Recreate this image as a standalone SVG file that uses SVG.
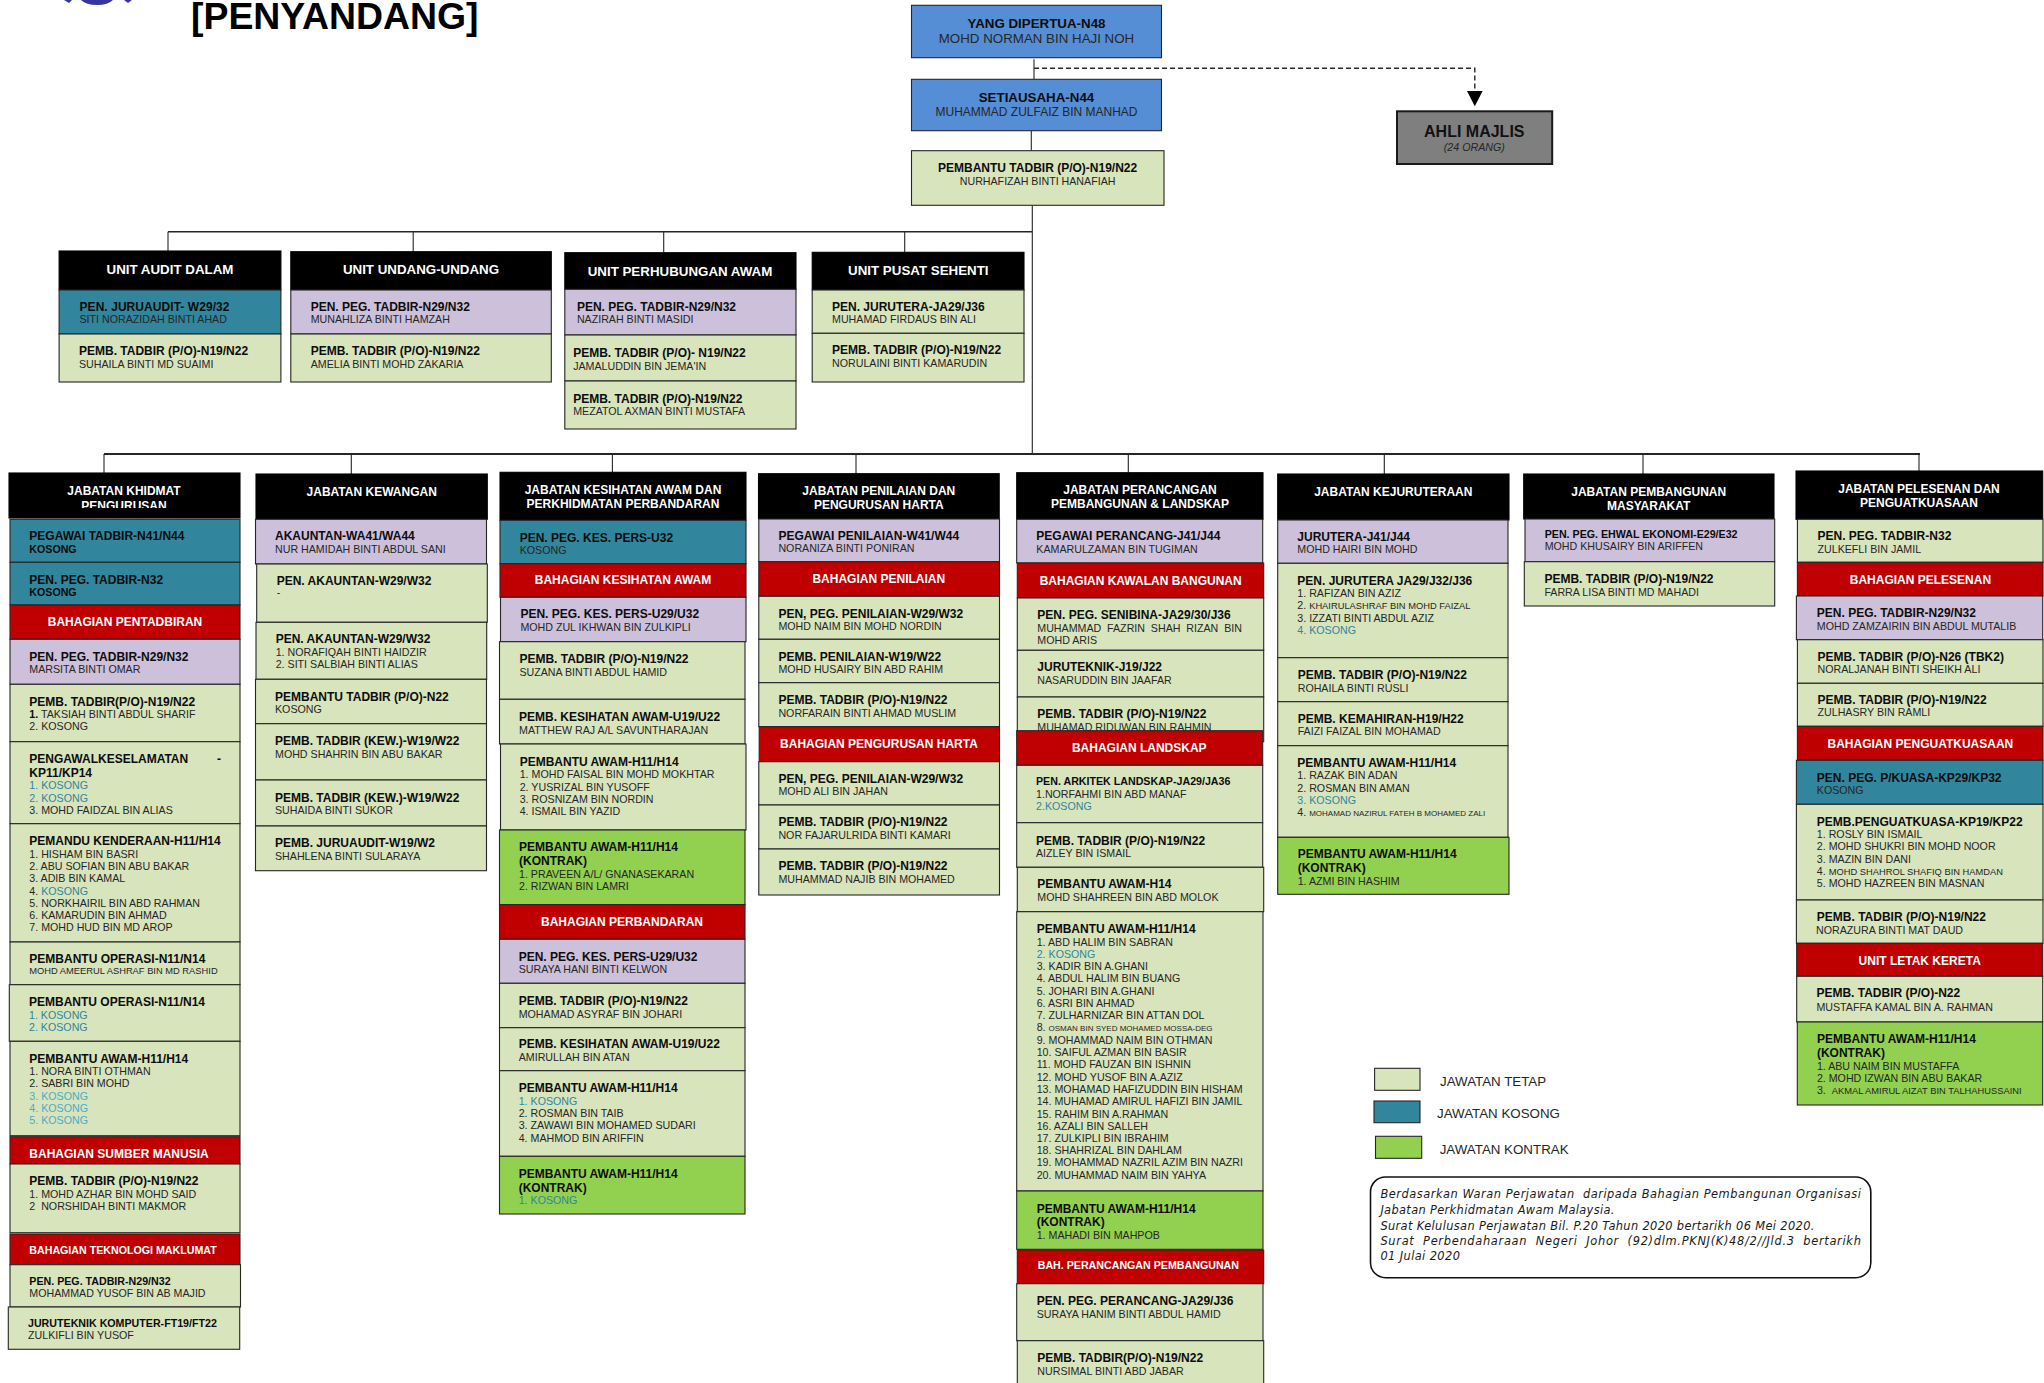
<svg xmlns="http://www.w3.org/2000/svg" width="2044" height="1383" viewBox="0 0 2044 1383">
<style>
text{font-family:"Liberation Sans",Arial,sans-serif;fill:#262626;font-size:10.67px}
.box{stroke:#262626;stroke-width:1.1}
.tetap{fill:#D8E4BC}.kosong{fill:#31859C}.lilac{fill:#CCC0DA}.kontrak{fill:#92D050}.red{fill:#C00000}.black{fill:#000;stroke:#000}.blue{fill:#558ED5}.grey{fill:#7F7F7F;stroke:#1a1a1a;stroke-width:2}
.t{font-weight:bold;font-size:12px;fill:#0d0d0d}
.s{font-weight:bold;fill:#0d0d0d}
.h{font-weight:bold;font-size:12px;fill:#fff;text-anchor:middle}
.hl{font-weight:bold;font-size:12px;fill:#fff}
.c{text-anchor:middle}
.k{fill:#31859C}.k2{fill:#4BACC6}
.x8{font-size:8px}.x9{font-size:9.33px}
.pre{white-space:pre}
.conn{fill:none;stroke:#262626;stroke-width:1.1}
.note{font-family:"DejaVu Sans",sans-serif;font-style:italic;font-size:11.4px;fill:#1a1a1a;white-space:pre}
</style>
<defs>
<marker id="arrow" markerUnits="userSpaceOnUse" markerWidth="16" markerHeight="16" refX="0" refY="8" orient="auto"><polygon points="0,0 15.5,8 0,16" fill="#000"/></marker>
<clipPath id="clipPeng"><rect x="9" y="473" width="231" height="35"/></clipPath>
</defs>
<rect width="2044" height="1383" fill="#fff"/>

<g id="logo" fill="#35359f"><path d="M81 0H113Q108 5 97 5Q86 5 81 0Z"/><path d="M64 0H72L69 3Z"/><path d="M124 0H132L128 3Z"/></g>
<g id="title"><text x="191" y="29.3" style="font-size:36px;font-weight:bold;fill:#000" textLength="287.5" lengthAdjust="spacingAndGlyphs">[PENYANDANG]</text></g>

<g id="connectors">
<path class="conn" d="M1034 59.3V79.3M1031.3 130.7V150.7M1032.3 205.3V454"/>
<path class="conn" style="stroke-width:1.4" stroke-dasharray="5 3" d="M1034 68.3H1474.8V90.7" marker-end="url(#arrow)"/>
<path class="conn" style="stroke-width:1.5" d="M168 231.7H1032.3"/>
<path class="conn" d="M168 231.7V251M413.2 231.7V252M663.7 231.7V252.7M904.7 231.7V252.3"/>
<path class="conn" style="stroke-width:1.8" d="M104 454H1920"/>
<path class="conn" d="M104 454V473M351.3 454V474M612.4 454V472.3M856 454V473.7M1128.3 454V472.7M1384.3 454V474M1643 454V474M1919 454V471"/>
</g>

<g id="n-dipertua"><rect class="box blue" x="911.5" y="5.3" width="250" height="52.4"/><text class="c" x="1036.5" y="28" style="font-weight:bold;font-size:13.33px;fill:#0d0d0d">YANG DIPERTUA-N48</text><text class="c" x="1036.5" y="43.3" style="font-size:13.33px">MOHD NORMAN BIN HAJI NOH</text></g>
<g id="n-setiausaha"><rect class="box blue" x="911.5" y="79.3" width="250" height="51.4"/><text class="c" x="1036.5" y="102" style="font-weight:bold;font-size:13.33px;fill:#0d0d0d">SETIAUSAHA-N44</text><text class="c" x="1036.5" y="116" style="font-size:12px">MUHAMMAD ZULFAIZ BIN MANHAD</text></g>
<g id="n-pembantu"><rect class="box tetap" x="911.5" y="150.7" width="252.5" height="54.6"/><text class="t c" x="1037.6" y="172">PEMBANTU TADBIR (P/O)-N19/N22</text><text class="c" x="1037.6" y="185.3">NURHAFIZAH BINTI HANAFIAH</text></g>
<g id="n-ahli"><rect class="grey" x="1397" y="111.3" width="155.2" height="52.7"/><text class="c" x="1474.3" y="136.7" style="font-weight:bold;font-size:16px;fill:#111">AHLI MAJLIS</text><text class="c" x="1474.3" y="151" style="font-style:italic">(24 ORANG)</text></g>

<g id="u-audit"><rect class="box black" x="59.1" y="251" width="221.8" height="39"/><text class="h" x="170" y="274" style="font-size:13.33px">UNIT AUDIT DALAM</text></g>
<g id="u-audit-1"><rect class="box kosong" x="59.1" y="290" width="221.8" height="44"/><text class="t" x="79.5" y="311" textLength="150">PEN. JURUAUDIT- W29/32</text><text x="79.5" y="322.7">SITI NORAZIDAH BINTI AHAD</text></g>
<g id="u-audit-2"><rect class="box tetap" x="59.1" y="334" width="221.8" height="48"/><text class="t" x="79" y="355">PEMB. TADBIR (P/O)-N19/N22</text><text x="79" y="367.7">SUHAILA BINTI MD SUAIMI</text></g>
<g id="u-undang"><rect class="box black" x="290.8" y="251.7" width="260.5" height="38.3"/><text class="h" x="421" y="274" style="font-size:13.33px">UNIT UNDANG-UNDANG</text></g>
<g id="u-undang-1"><rect class="box lilac" x="290.8" y="290" width="260.5" height="44"/><text class="t" x="310.7" y="311">PEN. PEG. TADBIR-N29/N32</text><text x="310.7" y="322.7">MUNAHLIZA BINTI HAMZAH</text></g>
<g id="u-undang-2"><rect class="box tetap" x="290.8" y="334" width="260.5" height="48"/><text class="t" x="310.7" y="355">PEMB. TADBIR (P/O)-N19/N22</text><text x="310.7" y="367.7">AMELIA BINTI MOHD ZAKARIA</text></g>
<g id="u-awam"><rect class="box black" x="564.8" y="252.7" width="231.2" height="36.6"/><text class="h" x="680" y="276" style="font-size:13.33px">UNIT PERHUBUNGAN AWAM</text></g>
<g id="u-awam-1"><rect class="box lilac" x="564.8" y="289.3" width="231.2" height="45.7"/><text class="t" x="576.9" y="311">PEN. PEG. TADBIR-N29/N32</text><text x="576.9" y="322.7">NAZIRAH BINTI MASIDI</text></g>
<g id="u-awam-2"><rect class="box tetap" x="564.8" y="335" width="231.2" height="46"/><text class="t" x="573.2" y="357">PEMB. TADBIR (P/O)- N19/N22</text><text x="573.2" y="369.7">JAMALUDDIN BIN JEMA'IN</text></g>
<g id="u-awam-3"><rect class="box tetap" x="564.8" y="381" width="231.2" height="48"/><text class="t" x="573.2" y="403">PEMB. TADBIR (P/O)-N19/N22</text><text x="573.2" y="414.7">MEZATOL AXMAN BINTI MUSTAFA</text></g>
<g id="u-pusat"><rect class="box black" x="812.2" y="252.3" width="211.8" height="37.7"/><text class="h" x="918.3" y="275" style="font-size:13.33px">UNIT PUSAT SEHENTI</text></g>
<g id="u-pusat-1"><rect class="box tetap" x="812.2" y="290" width="211.8" height="43.3"/><text class="t" x="832" y="311">PEN. JURUTERA-JA29/J36</text><text x="832" y="322.7">MUHAMAD FIRDAUS BIN ALI</text></g>
<g id="u-pusat-2"><rect class="box tetap" x="812.2" y="333.3" width="211.8" height="48.7"/><text class="t" x="832" y="354">PEMB. TADBIR (P/O)-N19/N22</text><text x="832" y="366.7">NORULAINI BINTI KAMARUDIN</text></g>

<g id="c1-head"><rect class="box black" x="9" y="473" width="231" height="45"/><text class="h" x="124" y="495">JABATAN KHIDMAT</text><text class="h" x="124" y="509.5" clip-path="url(#clipPeng)">PENGURUSAN</text></g>
<g id="c1-1"><rect class="box kosong" x="10" y="519.3" width="230" height="43"/><text class="t" x="29.3" y="540">PEGAWAI TADBIR-N41/N44</text><text class="s" x="29.3" y="553">KOSONG</text></g>
<g id="c1-2"><rect class="box kosong" x="10" y="562.3" width="230" height="42.7"/><text class="t" x="29.3" y="584">PEN. PEG. TADBIR-N32</text><text class="s" x="29.3" y="596">KOSONG</text></g>
<g id="c1-3"><rect class="box red" x="10" y="605" width="230" height="34.3"/><text class="h" x="125" y="625.7">BAHAGIAN PENTADBIRAN</text></g>
<g id="c1-4"><rect class="box lilac" x="10" y="639.3" width="230" height="45"/><text class="t" x="29.3" y="661">PEN. PEG. TADBIR-N29/N32</text><text x="29.3" y="672.7">MARSITA BINTI OMAR</text></g>
<g id="c1-5"><rect class="box tetap" x="10" y="684.3" width="230" height="57.4"/><text class="t" x="29.3" y="705.7">PEMB. TADBIR(P/O)-N19/N22</text><text x="29.3" y="718.3"><tspan class="s">1.</tspan> TAKSIAH BINTI ABDUL SHARIF</text><text x="29.3" y="730">2. KOSONG</text></g>
<g id="c1-6"><rect class="box tetap" x="10" y="741.7" width="230" height="82"/><text class="t" x="29.3" y="762.7">PENGAWALKESELAMATAN</text><text class="t" x="217" y="762.7">-</text><text class="t" x="29.3" y="776.7">KP11/KP14</text><text class="k" x="29.3" y="789">1. KOSONG</text><text class="k" x="29.3" y="802">2. KOSONG</text><text x="29.3" y="814">3. MOHD FAIDZAL BIN ALIAS</text></g>
<g id="c1-7"><rect class="box tetap" x="10" y="823.7" width="230" height="118.3"/><text class="t" x="29.3" y="845">PEMANDU KENDERAAN-H11/H14</text><text x="29.3" y="858">1. HISHAM BIN BASRI</text><text x="29.3" y="870">2. ABU SOFIAN BIN ABU BAKAR</text><text x="29.3" y="882">3. ADIB BIN KAMAL</text><text x="29.3" y="895">4. <tspan class="k">KOSONG</tspan></text><text x="29.3" y="907">5. NORKHAIRIL BIN ABD RAHMAN</text><text x="29.3" y="919">6. KAMARUDIN BIN AHMAD</text><text x="29.3" y="930.7">7. MOHD HUD BIN MD AROP</text></g>
<g id="c1-8"><rect class="box tetap" x="10" y="942" width="230" height="42.7"/><text class="t" x="29.3" y="963">PEMBANTU OPERASI-N11/N14</text><text class="x9" x="29.3" y="974">MOHD AMEERUL ASHRAF BIN MD RASHID</text></g>
<g id="c1-9"><rect class="box tetap" x="9.3" y="984.7" width="230.7" height="56.6"/><text class="t" x="29" y="1006">PEMBANTU OPERASI-N11/N14</text><text class="k" x="29" y="1019">1. KOSONG</text><text class="k" x="29" y="1031">2. KOSONG</text></g>
<g id="c1-10"><rect class="box tetap" x="10" y="1041.3" width="230" height="94.4"/><text class="t" x="29.3" y="1063">PEMBANTU AWAM-H11/H14</text><text x="29.3" y="1075">1. NORA BINTI OTHMAN</text><text x="29.3" y="1087">2. SABRI BIN MOHD</text><text class="k2" x="29.3" y="1100">3. KOSONG</text><text class="k2" x="29.3" y="1112">4. KOSONG</text><text class="k2" x="29.3" y="1124">5. KOSONG</text></g>
<g id="c1-11"><rect class="box red" x="10" y="1136.7" width="230" height="27.3"/><text class="hl" x="29.3" y="1158">BAHAGIAN SUMBER MANUSIA</text></g>
<g id="c1-12"><rect class="box tetap" x="10" y="1164" width="230" height="68.7"/><text class="t" x="29.3" y="1185">PEMB. TADBIR (P/O)-N19/N22</text><text x="29.3" y="1198">1. MOHD AZHAR BIN MOHD SAID</text><text class="pre" x="29.3" y="1210">2  NORSHIDAH BINTI MAKMOR</text></g>
<g id="c1-13"><rect class="box red" x="10" y="1234" width="230" height="30.7"/><text class="hl" x="29.3" y="1254" style="font-size:10.67px">BAHAGIAN TEKNOLOGI MAKLUMAT</text></g>
<g id="c1-14"><rect class="box tetap" x="10" y="1264.7" width="230.5" height="42.3"/><text class="s" x="29.3" y="1285">PEN. PEG. TADBIR-N29/N32</text><text x="29.3" y="1297">MOHAMMAD YUSOF BIN AB MAJID</text></g>
<g id="c1-15"><rect class="box tetap" x="8.3" y="1307" width="231.4" height="42.3"/><text class="s" x="28" y="1327">JURUTEKNIK KOMPUTER-FT19/FT22</text><text x="28" y="1339">ZULKIFLI BIN YUSOF</text></g>

<g id="c2-head"><rect class="box black" x="256" y="474" width="231.3" height="45.3"/><text class="h" x="371.7" y="496">JABATAN KEWANGAN</text></g>
<g id="c2-1"><rect class="box lilac" x="255.5" y="519.3" width="231" height="44.7"/><text class="t" x="275" y="540">AKAUNTAN-WA41/WA44</text><text x="275" y="553">NUR HAMIDAH BINTI ABDUL SANI</text></g>
<g id="c2-2"><rect class="box tetap" x="256.7" y="564" width="230.6" height="58.3"/><text class="t" x="276.7" y="584.7">PEN. AKAUNTAN-W29/W32</text><text x="276.7" y="596">-</text></g>
<g id="c2-3"><rect class="box tetap" x="256" y="622.3" width="230.7" height="57"/><text class="t" x="275.7" y="643">PEN. AKAUNTAN-W29/W32</text><text x="275.7" y="656">1. NORAFIQAH BINTI HAIDZIR</text><text x="275.7" y="668">2. SITI SALBIAH BINTI ALIAS</text></g>
<g id="c2-4"><rect class="box tetap" x="255.5" y="679.3" width="231" height="44.4"/><text class="t" x="275" y="700.7">PEMBANTU TADBIR (P/O)-N22</text><text x="275" y="713">KOSONG</text></g>
<g id="c2-5"><rect class="box tetap" x="255.5" y="723.7" width="231" height="56.3"/><text class="t" x="275" y="745">PEMB. TADBIR (KEW.)-W19/W22</text><text x="275" y="758">MOHD SHAHRIN BIN ABU BAKAR</text></g>
<g id="c2-6"><rect class="box tetap" x="255.5" y="780" width="231" height="46"/><text class="t" x="275" y="802">PEMB. TADBIR (KEW.)-W19/W22</text><text x="275" y="814">SUHAIDA BINTI SUKOR</text></g>
<g id="c2-7"><rect class="box tetap" x="255.5" y="826" width="231" height="44.7"/><text class="t" x="275" y="846.7">PEMB. JURUAUDIT-W19/W2</text><text x="275" y="860">SHAHLENA BINTI SULARAYA</text></g>

<g id="c3-head"><rect class="box black" x="500" y="472.3" width="246" height="48"/><text class="h" x="623" y="493.7">JABATAN KESIHATAN AWAM DAN</text><text class="h" x="623" y="507.7">PERKHIDMATAN PERBANDARAN</text></g>
<g id="c3-1"><rect class="box kosong" x="500" y="520.3" width="246" height="43.4"/><text class="t" x="519.7" y="541.7">PEN. PEG. KES. PERS-U32</text><text x="519.7" y="554">KOSONG</text></g>
<g id="c3-2"><rect class="box red" x="500" y="563.7" width="246" height="33.6"/><text class="h" x="623" y="584.3">BAHAGIAN KESIHATAN AWAM</text></g>
<g id="c3-3"><rect class="box lilac" x="500.5" y="597.3" width="245.5" height="44.4"/><text class="t" x="520.4" y="617.7">PEN. PEG. KES. PERS-U29/U32</text><text x="520.4" y="631">MOHD ZUL IKHWAN BIN ZULKIPLI</text></g>
<g id="c3-4"><rect class="box tetap" x="499.5" y="641.7" width="245.5" height="57.6"/><text class="t" x="519.4" y="662.7">PEMB. TADBIR (P/O)-N19/N22</text><text x="519.4" y="676">SUZANA BINTI ABDUL HAMID</text></g>
<g id="c3-5"><rect class="box tetap" x="499.5" y="699.3" width="245.5" height="44.7"/><text class="t" x="519" y="720.7">PEMB. KESIHATAN AWAM-U19/U22</text><text x="519" y="734">MATTHEW RAJ A/L SAVUNTHARAJAN</text></g>
<g id="c3-6"><rect class="box tetap" x="500.5" y="744" width="245.5" height="86"/><text class="t" x="519.7" y="765.7">PEMBANTU AWAM-H11/H14</text><text x="519.7" y="778.3">1. MOHD FAISAL BIN MOHD MOKHTAR</text><text x="519.7" y="791">2. YUSRIZAL BIN YUSOFF</text><text x="519.7" y="803">3. ROSNIZAM BIN NORDIN</text><text x="519.7" y="815">4. ISMAIL BIN YAZID</text></g>
<g id="c3-7"><rect class="box kontrak" x="499.5" y="830" width="245.5" height="74.7"/><text class="t" x="519" y="850.7">PEMBANTU AWAM-H11/H14</text><text class="t" x="519" y="864.7">(KONTRAK)</text><text x="519" y="878">1. PRAVEEN A/L/ GNANASEKARAN</text><text x="519" y="890">2. RIZWAN BIN LAMRI</text></g>
<g id="c3-8"><rect class="box red" x="499.5" y="904.7" width="245.5" height="34.6"/><text class="h" x="622" y="925.7">BAHAGIAN PERBANDARAN</text></g>
<g id="c3-9"><rect class="box lilac" x="499.5" y="939.3" width="245.5" height="44"/><text class="t" x="518.7" y="960.7">PEN. PEG. KES. PERS-U29/U32</text><text x="518.7" y="973">SURAYA HANI BINTI KELWON</text></g>
<g id="c3-10"><rect class="box tetap" x="499.5" y="983.3" width="245.5" height="44.4"/><text class="t" x="518.7" y="1004.7">PEMB. TADBIR (P/O)-N19/N22</text><text x="518.7" y="1018">MOHAMAD ASYRAF BIN JOHARI</text></g>
<g id="c3-11"><rect class="box tetap" x="499.5" y="1027.7" width="245.5" height="43"/><text class="t" x="518.7" y="1047.7">PEMB. KESIHATAN AWAM-U19/U22</text><text x="518.7" y="1061">AMIRULLAH BIN ATAN</text></g>
<g id="c3-12"><rect class="box tetap" x="499.5" y="1070.7" width="245.5" height="85.6"/><text class="t" x="518.7" y="1091.7">PEMBANTU AWAM-H11/H14</text><text class="k" x="518.7" y="1105">1. KOSONG</text><text x="518.7" y="1117">2. ROSMAN BIN TAIB</text><text x="518.7" y="1129">3. ZAWAWI BIN MOHAMED SUDARI</text><text x="518.7" y="1142">4. MAHMOD BIN ARIFFIN</text></g>
<g id="c3-13"><rect class="box kontrak" x="499.5" y="1156.3" width="245.5" height="57.7"/><text class="t" x="518.7" y="1177.7">PEMBANTU AWAM-H11/H14</text><text class="t" x="518.7" y="1191.7">(KONTRAK)</text><text class="k" x="518.7" y="1204">1. KOSONG</text></g>

<g id="c4-head"><rect class="box black" x="758.5" y="473.7" width="240.7" height="45.3"/><text class="h" x="878.8" y="494.7">JABATAN PENILAIAN DAN</text><text class="h" x="878.8" y="508.7">PENGURUSAN HARTA</text></g>
<g id="c4-1"><rect class="box lilac" x="758.8" y="519" width="240.7" height="42.7"/><text class="t" x="778.4" y="539.7">PEGAWAI PENILAIAN-W41/W44</text><text x="778.4" y="552">NORANIZA BINTI PONIRAN</text></g>
<g id="c4-2"><rect class="box red" x="758.8" y="561.7" width="240.7" height="34.6"/><text class="h" x="878.8" y="582.7">BAHAGIAN PENILAIAN</text></g>
<g id="c4-3"><rect class="box tetap" x="758.8" y="596.3" width="240.7" height="43"/><text class="t" x="778.4" y="617.7">PEN, PEG. PENILAIAN-W29/W32</text><text x="778.4" y="630">MOHD NAIM BIN MOHD NORDIN</text></g>
<g id="c4-4"><rect class="box tetap" x="758.8" y="639.3" width="240.7" height="43.4"/><text class="t" x="778.4" y="660.7">PEMB. PENILAIAN-W19/W22</text><text x="778.4" y="673">MOHD HUSAIRY BIN ABD RAHIM</text></g>
<g id="c4-5"><rect class="box tetap" x="758.8" y="682.7" width="240.7" height="44"/><text class="t" x="778.4" y="703.7">PEMB. TADBIR (P/O)-N19/N22</text><text x="778.4" y="717">NORFARAIN BINTI AHMAD MUSLIM</text></g>
<g id="c4-6"><rect class="box red" x="759.2" y="726.7" width="240.3" height="35"/><text class="h" x="879" y="747.7">BAHAGIAN PENGURUSAN HARTA</text></g>
<g id="c4-7"><rect class="box tetap" x="758.8" y="761.7" width="240.7" height="43.3"/><text class="t" x="778.4" y="782.7">PEN, PEG. PENILAIAN-W29/W32</text><text x="778.4" y="795">MOHD ALI BIN JAHAN</text></g>
<g id="c4-8"><rect class="box tetap" x="758.8" y="805" width="240.7" height="44"/><text class="t" x="778.4" y="825.7">PEMB. TADBIR (P/O)-N19/N22</text><text x="778.4" y="839">NOR FAJARULRIDA BINTI KAMARI</text></g>
<g id="c4-9"><rect class="box tetap" x="758.8" y="849" width="240.7" height="46"/><text class="t" x="778.4" y="869.7">PEMB. TADBIR (P/O)-N19/N22</text><text x="778.4" y="883">MUHAMMAD NAJIB BIN MOHAMED</text></g>

<g id="c5-head"><rect class="box black" x="1016.7" y="472.7" width="246.3" height="46.6"/><text class="h" x="1140" y="493.7">JABATAN PERANCANGAN</text><text class="h" x="1140" y="507.7">PEMBANGUNAN &amp; LANDSKAP</text></g>
<g id="c5-1"><rect class="box lilac" x="1016.7" y="519.3" width="246" height="43.7"/><text class="t" x="1036.3" y="540">PEGAWAI PERANCANG-J41/J44</text><text x="1036.3" y="553">KAMARULZAMAN BIN TUGIMAN</text></g>
<g id="c5-2"><rect class="box red" x="1017.3" y="563" width="246.4" height="35"/><text class="h" x="1140.7" y="584.7">BAHAGIAN KAWALAN BANGUNAN</text></g>
<g id="c5-3"><rect class="box tetap" x="1017.3" y="598" width="246.4" height="52.3"/><text class="t" x="1037.3" y="619">PEN. PEG. SENIBINA-JA29/30/J36</text><text x="1037.3" y="632" style="word-spacing:2.9px">MUHAMMAD FAZRIN SHAH RIZAN BIN</text><text x="1037.3" y="644">MOHD ARIS</text></g>
<g id="c5-4"><rect class="box tetap" x="1017.3" y="650.3" width="246.4" height="46.7"/><text class="t" x="1037.3" y="671">JURUTEKNIK-J19/J22</text><text x="1037.3" y="684">NASARUDDIN BIN JAAFAR</text></g>
<g id="c5-5"><rect class="box tetap" x="1017.3" y="697" width="246.4" height="44.7"/><text class="t" x="1037.3" y="718">PEMB. TADBIR (P/O)-N19/N22</text><text x="1037.3" y="731">MUHAMAD RIDUWAN BIN RAHMIN</text></g>
<g id="c5-6"><rect class="box red" x="1016.7" y="730.7" width="246" height="34.6"/><text class="h" x="1139.3" y="751.7">BAHAGIAN LANDSKAP</text></g>
<g id="c5-7"><rect class="box tetap" x="1016.7" y="765.3" width="246" height="57.4"/><text class="s" x="1036" y="785">PEN. ARKITEK LANDSKAP-JA29/JA36</text><text x="1036" y="798">1.NORFAHMI BIN ABD MANAF</text><text class="k" x="1036" y="810">2.KOSONG</text></g>
<g id="c5-8"><rect class="box tetap" x="1016.7" y="822.7" width="246" height="44.6"/><text class="t" x="1036" y="844.7">PEMB. TADBIR (P/O)-N19/N22</text><text x="1036" y="857">AIZLEY BIN ISMAIL</text></g>
<g id="c5-9"><rect class="box tetap" x="1017.3" y="867.3" width="246.4" height="44.4"/><text class="t" x="1037.3" y="887.7">PEMBANTU AWAM-H14</text><text x="1037.3" y="901">MOHD SHAHREEN BIN ABD MOLOK</text></g>
<g id="c5-10"><rect class="box tetap" x="1016.7" y="911.7" width="246.3" height="279.3"/><text class="t" x="1036.7" y="932.7">PEMBANTU AWAM-H11/H14</text><text x="1036.7" y="946">1. ABD HALIM BIN SABRAN</text><text class="k" x="1036.7" y="958">2. KOSONG</text><text x="1036.7" y="970">3. KADIR BIN A.GHANI</text><text x="1036.7" y="982">4. ABDUL HALIM BIN BUANG</text><text x="1036.7" y="995">5. JOHARI BIN A.GHANI</text><text x="1036.7" y="1007">6. ASRI BIN AHMAD</text><text x="1036.7" y="1019">7. ZULHARNIZAR BIN ATTAN DOL</text><text x="1036.7" y="1031">8. <tspan class="x8">OSMAN BIN SYED MOHAMED MOSSA-DEG</tspan></text><text x="1036.7" y="1044">9. MOHAMMAD NAIM BIN OTHMAN</text><text x="1036.7" y="1056">10. SAIFUL AZMAN BIN BASIR</text><text x="1036.7" y="1068">11. MOHD FAUZAN BIN ISHNIN</text><text x="1036.7" y="1081">12. MOHD YUSOF BIN A.AZIZ</text><text x="1036.7" y="1093">13. MOHAMAD HAFIZUDDIN BIN HISHAM</text><text x="1036.7" y="1105">14. MUHAMAD AMIRUL HAFIZI BIN JAMIL</text><text x="1036.7" y="1118">15. RAHIM BIN A.RAHMAN</text><text x="1036.7" y="1130">16. AZALI BIN SALLEH</text><text x="1036.7" y="1142">17. ZULKIPLI BIN IBRAHIM</text><text x="1036.7" y="1154">18. SHAHRIZAL BIN DAHLAM</text><text x="1036.7" y="1166">19. MOHAMMAD NAZRIL AZIM BIN NAZRI</text><text x="1036.7" y="1179">20. MUHAMMAD NAIM BIN YAHYA</text></g>
<g id="c5-11"><rect class="box kontrak" x="1016.7" y="1191" width="246.3" height="58.3"/><text class="t" x="1036.7" y="1212.7">PEMBANTU AWAM-H11/H14</text><text class="t" x="1036.7" y="1226">(KONTRAK)</text><text x="1036.7" y="1239">1. MAHADI BIN MAHPOB</text></g>
<g id="c5-12"><rect class="box red" x="1017.3" y="1250" width="246.4" height="33.7"/><text class="hl" x="1037.7" y="1269" style="font-size:10.67px">BAH. PERANCANGAN PEMBANGUNAN</text></g>
<g id="c5-13"><rect class="box tetap" x="1016.7" y="1283.7" width="246.3" height="57"/><text class="t" x="1036.7" y="1304.7">PEN. PEG. PERANCANG-JA29/J36</text><text x="1036.7" y="1318">SURAYA HANIM BINTI ABDUL HAMID</text></g>
<g id="c5-14"><rect class="box tetap" x="1017.3" y="1340.7" width="246.4" height="50"/><text class="t" x="1037.3" y="1361.7">PEMB. TADBIR(P/O)-N19/N22</text><text x="1037.3" y="1375">NURSIMAL BINTI ABD JABAR</text></g>

<g id="c6-head"><rect class="box black" x="1277.7" y="474" width="231.3" height="46"/><text class="h" x="1393.3" y="496">JABATAN KEJURUTERAAN</text></g>
<g id="c6-1"><rect class="box lilac" x="1277.7" y="520" width="230.3" height="43.3"/><text class="t" x="1297.3" y="541">JURUTERA-J41/J44</text><text x="1297.3" y="553">MOHD HAIRI BIN MOHD</text></g>
<g id="c6-2"><rect class="box tetap" x="1277.7" y="563.3" width="230.3" height="94.4"/><text class="t" x="1297.3" y="584.7">PEN. JURUTERA JA29/J32/J36</text><text x="1297.3" y="597">1. RAFIZAN BIN AZIZ</text><text x="1297.3" y="609">2. <tspan class="x9">KHAIRULASHRAF BIN MOHD FAIZAL</tspan></text><text x="1297.3" y="622">3. IZZATI BINTI ABDUL AZIZ</text><text class="k" x="1297.3" y="634">4. KOSONG</text></g>
<g id="c6-3"><rect class="box tetap" x="1277.7" y="657.7" width="230.3" height="44"/><text class="t" x="1297.7" y="678.7">PEMB. TADBIR (P/O)-N19/N22</text><text x="1297.7" y="692">ROHAILA BINTI RUSLI</text></g>
<g id="c6-4"><rect class="box tetap" x="1277.7" y="701.7" width="230.3" height="44"/><text class="t" x="1297.7" y="722.7">PEMB. KEMAHIRAN-H19/H22</text><text x="1297.7" y="735">FAIZI FAIZAL BIN MOHAMAD</text></g>
<g id="c6-5"><rect class="box tetap" x="1277.7" y="745.7" width="230.3" height="91.6"/><text class="t" x="1297.3" y="766.7">PEMBANTU AWAM-H11/H14</text><text x="1297.3" y="779">1. RAZAK BIN ADAN</text><text x="1297.3" y="792">2. ROSMAN BIN AMAN</text><text class="k" x="1297.3" y="804">3. KOSONG</text><text x="1297.3" y="816">4. <tspan class="x8">MOHAMAD NAZIRUL FATEH B MOHAMED ZALI</tspan></text></g>
<g id="c6-6"><rect class="box kontrak" x="1277.7" y="837.3" width="231.3" height="57"/><text class="t" x="1297.7" y="857.7">PEMBANTU AWAM-H11/H14</text><text class="t" x="1297.7" y="871.7">(KONTRAK)</text><text x="1297.7" y="885">1. AZMI BIN HASHIM</text></g>

<g id="c7-head"><rect class="box black" x="1523.7" y="474" width="250.3" height="45"/><text class="h" x="1648.7" y="495.7">JABATAN PEMBANGUNAN</text><text class="h" x="1648.7" y="509.7">MASYARAKAT</text></g>
<g id="c7-1"><rect class="box lilac" x="1525" y="519" width="249.7" height="42.7"/><text class="s" x="1544.7" y="537.7">PEN. PEG. EHWAL EKONOMI-E29/E32</text><text x="1544.7" y="549.7">MOHD KHUSAIRY BIN ARIFFEN</text></g>
<g id="c7-2"><rect class="box tetap" x="1524.3" y="561.7" width="250.4" height="44.3"/><text class="t" x="1544.4" y="582.7">PEMB. TADBIR (P/O)-N19/N22</text><text x="1544.4" y="596">FARRA LISA BINTI MD MAHADI</text></g>

<g id="c8-head"><rect class="box black" x="1796" y="471" width="246.7" height="48.3"/><text class="h" x="1919" y="493">JABATAN PELESENAN DAN</text><text class="h" x="1919" y="506.7">PENGUATKUASAAN</text></g>
<g id="c8-1"><rect class="box tetap" x="1797.4" y="519.3" width="245.6" height="43"/><text class="t" x="1817.5" y="539.7">PEN. PEG. TADBIR-N32</text><text x="1817.5" y="553">ZULKEFLI BIN JAMIL</text></g>
<g id="c8-2"><rect class="box red" x="1797.4" y="562.3" width="245.6" height="33.7"/><text class="h" x="1920.4" y="583.7">BAHAGIAN PELESENAN</text></g>
<g id="c8-3"><rect class="box lilac" x="1796.4" y="596" width="246.3" height="43.7"/><text class="t" x="1816.8" y="617">PEN. PEG. TADBIR-N29/N32</text><text x="1816.8" y="630">MOHD ZAMZAIRIN BIN ABDUL MUTALIB</text></g>
<g id="c8-4"><rect class="box tetap" x="1797.4" y="639.7" width="245.6" height="43.6"/><text class="t" x="1817.5" y="660.7">PEMB. TADBIR (P/O)-N26 (TBK2)</text><text x="1817.5" y="673">NORALJANAH BINTI SHEIKH ALI</text></g>
<g id="c8-5"><rect class="box tetap" x="1797.4" y="683.3" width="245.6" height="43"/><text class="t" x="1817.5" y="703.7">PEMB. TADBIR (P/O)-N19/N22</text><text x="1817.5" y="716">ZULHASRY BIN RAMLI</text></g>
<g id="c8-6"><rect class="box red" x="1797.4" y="726.3" width="245.6" height="34"/><text class="h" x="1920.4" y="747.7">BAHAGIAN PENGUATKUASAAN</text></g>
<g id="c8-7"><rect class="box kosong" x="1796.4" y="760.3" width="246.6" height="44"/><text class="t" x="1816.8" y="781.7">PEN. PEG. P/KUASA-KP29/KP32</text><text x="1816.8" y="794">KOSONG</text></g>
<g id="c8-8"><rect class="box tetap" x="1796.4" y="804.3" width="246.6" height="95.7"/><text class="t" x="1816.8" y="825.7">PEMB.PENGUATKUASA-KP19/KP22</text><text x="1816.8" y="838">1. ROSLY BIN ISMAIL</text><text x="1816.8" y="850">2. MOHD SHUKRI BIN MOHD NOOR</text><text x="1816.8" y="863">3. MAZIN BIN DANI</text><text x="1816.8" y="875.3">4. <tspan class="x9">MOHD SHAHROL SHAFIQ BIN HAMDAN</tspan></text><text x="1816.8" y="887">5. MOHD HAZREEN BIN MASNAN</text></g>
<g id="c8-9"><rect class="box tetap" x="1796.4" y="900" width="246.6" height="43.3"/><text class="t" x="1816.8" y="920.7">PEMB. TADBIR (P/O)-N19/N22</text><text x="1816" y="934">NORAZURA BINTI MAT DAUD</text></g>
<g id="c8-10"><rect class="box red" x="1796.7" y="943.3" width="246" height="33"/><text class="h" x="1919.7" y="965">UNIT LETAK KERETA</text></g>
<g id="c8-11"><rect class="box tetap" x="1796.7" y="976.3" width="246" height="45.7"/><text class="t" x="1816.4" y="997.3">PEMB. TADBIR (P/O)-N22</text><text x="1816.4" y="1010.7">MUSTAFFA KAMAL BIN A. RAHMAN</text></g>
<g id="c8-12"><rect class="box kontrak" x="1797.3" y="1022" width="245.4" height="83"/><text class="t" x="1816.9" y="1043.3">PEMBANTU AWAM-H11/H14</text><text class="t" x="1816.9" y="1056.7">(KONTRAK)</text><text x="1816.9" y="1069.7">1. ABU NAIM BIN MUSTAFFA</text><text x="1816.9" y="1081.7">2. MOHD IZWAN BIN ABU BAKAR</text><text class="pre" x="1816.9" y="1094">3.  <tspan class="x9">AKMAL AMIRUL AIZAT BIN TALHAHUSSAINI</tspan></text></g>

<g id="legend">
<rect class="box tetap" x="1374.6" y="1068.3" width="45.4" height="22"/><text x="1440" y="1086" style="font-size:13.33px">JAWATAN TETAP</text>
<rect class="box kosong" x="1374" y="1101" width="46" height="21.7"/><text x="1437" y="1118" style="font-size:13.33px">JAWATAN KOSONG</text>
<rect class="box kontrak" x="1375.5" y="1136.3" width="46.2" height="22"/><text x="1439.7" y="1154" style="font-size:13.33px">JAWATAN KONTRAK</text>
</g>
<g id="nota">
<rect x="1370.5" y="1177" width="500.3" height="100.7" rx="15" ry="15" fill="#fff" stroke="#111" stroke-width="1.6"/>
<text class="note" x="1380.4" y="1197.7" textLength="480.5">Berdasarkan Waran Perjawatan  daripada Bahagian Pembangunan Organisasi</text>
<text class="note" x="1380.4" y="1213.7" textLength="234">Jabatan Perkhidmatan Awam Malaysia.</text>
<text class="note" x="1380.4" y="1229.7" textLength="434">Surat Kelulusan Perjawatan Bil. P.20 Tahun 2020 bertarikh 06 Mei 2020.</text>
<text class="note" x="1380.4" y="1244.7" textLength="480.5">Surat  Perbendaharaan  Negeri  Johor  (92)dlm.PKNJ(K)48/2//Jld.3  bertarikh</text>
<text class="note" x="1380.4" y="1259.7" textLength="79.5">01 Julai 2020</text>
</g>
</svg>
